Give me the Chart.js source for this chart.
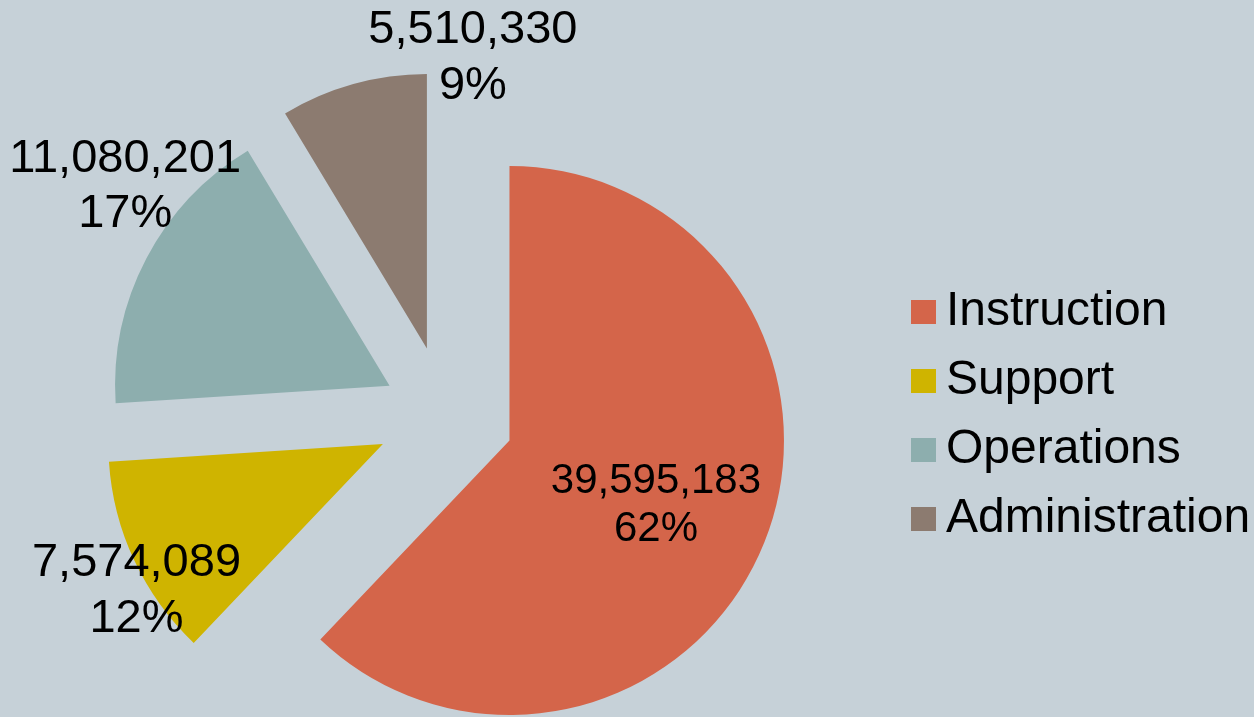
<!DOCTYPE html>
<html>
<head>
<meta charset="utf-8">
<title>Expenditure by function</title>
<script src="https://cdn.jsdelivr.net/npm/chart.js@4.4.1/dist/chart.umd.min.js"></script>
<style>
  html, body { margin: 0; padding: 0; background: #c6d1d8; }
  #stage { position: relative; width: 1254px; height: 717px; overflow: hidden; }
  #stage canvas { position: absolute; left: 0; top: 0; }
</style>
</head>
<body>
<div id="stage">
  <canvas id="legend" width="1254" height="717"></canvas>
  <canvas id="slice0" width="1254" height="717"></canvas>
  <canvas id="slice1" width="1254" height="717"></canvas>
  <canvas id="slice2" width="1254" height="717"></canvas>
  <canvas id="slice3" width="1254" height="717"></canvas>
</div>
<script>
// data
const categories = ['Instruction', 'Support', 'Operations', 'Administration'];
const amounts = [39595183, 7574089, 11080201, 5510330];
const colors = ['#d4654a', '#cfb400', '#8daeae', '#8c7b70'];

// layout
const W = 1254, H = 717;
const FONT = '"Liberation Sans", Arial, sans-serif';
const PIE_CENTER = { x: 445.4, y: 414.9 };
const PIE_RADIUS = 274.5;
const EXPLODE = [69, 69, 63, 69];                 // how far each slice is pulled out
const LABEL_OFFSET = [[146.5, 76], [-246.4, 159.9], [-264.4, -186.4], [46, -277.6]];
const LABEL_SIZE = [42, 47, 47, 47];

Chart.defaults.font.family = FONT;
Chart.defaults.color = '#000';

const total = amounts.reduce((a, b) => a + b, 0);

// mid angle of every slice, clockwise from 12 o'clock
let cum = 0;
const midAngles = amounts.map(v => {
    const a = (cum + v / 2) / total * 2 * Math.PI;
    cum += v;
    return a;
});

/**
 * Draws "value / percent" next to one slice, anchored on the slice apex.
 */
const valueLabels = {
    id: 'valueLabels',
    afterDatasetsDraw(chart, args, opts) {
        const i = opts.index;
        const arc = chart.getDatasetMeta(0).data[i];
        const v = chart.data.datasets[0].data[i];
        const size = LABEL_SIZE[i];
        const gap = i === 0 ? 48 : size * 1.18;
        const x = arc.x + LABEL_OFFSET[i][0];
        const y = arc.y + LABEL_OFFSET[i][1];
        const ctx = chart.ctx;
        ctx.save();
        ctx.font = size + 'px ' + FONT;
        ctx.fillStyle = '#000';
        ctx.textAlign = 'center';
        ctx.textBaseline = 'alphabetic';
        ctx.fillText(v.toLocaleString('en-US'), x, y - gap / 2);
        ctx.fillText(Math.round(v / total * 100) + '%', x, y + gap / 2);
        ctx.restore();
    }
};

// one chart per slice so every slice can sit on its own exploded centre
categories.forEach((cat, i) => {
    const cx = PIE_CENTER.x + EXPLODE[i] * Math.sin(midAngles[i]);
    const cy = PIE_CENTER.y - EXPLODE[i] * Math.cos(midAngles[i]);
    const hw = Math.min(cx, W - cx);
    const hh = Math.min(cy, H - cy);
    new Chart(document.getElementById('slice' + i), {
        type: 'pie',
        data: {
            labels: categories,
            datasets: [{
                data: amounts,
                backgroundColor: colors.map((c, j) => j === i ? c : 'rgba(0,0,0,0)'),
                borderWidth: 0,
                hoverOffset: 0,
                clip: false
            }]
        },
        options: {
            responsive: false,
            animation: false,
            events: [],
            radius: PIE_RADIUS,
            layout: { padding: { left: cx - hw, right: W - cx - hw, top: cy - hh, bottom: H - cy - hh } },
            plugins: {
                legend: { display: false },
                tooltip: { enabled: false },
                valueLabels: { index: i }
            }
        },
        plugins: [valueLabels]
    });
});

// legend squares
function squareIcon(color) {
    const c = document.createElement('canvas');
    c.width = 29;
    c.height = 24;
    const g = c.getContext('2d');
    g.fillStyle = color;
    g.fillRect(4, 0, 25, 24);
    return c;
}
const icons = colors.map(squareIcon);

new Chart(document.getElementById('legend'), {
    type: 'pie',
    data: {
        labels: categories,
        datasets: [{ data: amounts, backgroundColor: 'rgba(0,0,0,0)', borderWidth: 0, hoverOffset: 0 }]
    },
    options: {
        responsive: false,
        animation: false,
        events: [],
        layout: { padding: { top: 114, bottom: 0, left: 0, right: 0 } },
        plugins: {
            tooltip: { enabled: false },
            legend: {
                position: 'right',
                maxWidth: 354,
                labels: {
                    font: { size: 48 },
                    color: '#000',
                    padding: 21,
                    boxWidth: 1,
                    boxHeight: 24,
                    usePointStyle: true,
                    generateLabels: () => categories.map((text, i) => ({
                        text: text,
                        fillStyle: colors[i],
                        strokeStyle: colors[i],
                        lineWidth: 0,
                        pointStyle: icons[i],
                        fontColor: '#000',
                        hidden: false,
                        index: i
                    }))
                }
            }
        }
    }
});
</script>
</body>
</html>
